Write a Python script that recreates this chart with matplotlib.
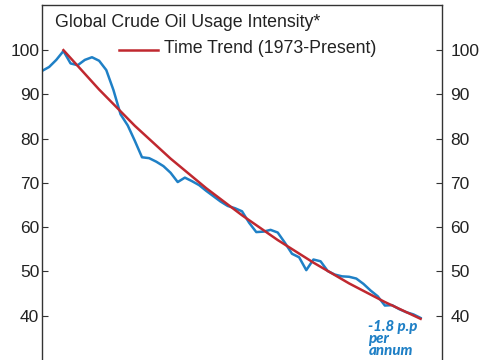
import numpy as np
import matplotlib
matplotlib.use("Agg")
import matplotlib.pyplot as plt
from matplotlib.transforms import ScaledTranslation

plt.rcParams['font.family'] = ['Liberation Sans', 'DejaVu Sans']

# Global crude oil usage intensity index (1973 = 100)
years = list(range(1970, 2024))
intensity = [95.3, 96.2, 97.8, 99.8, 97.0, 96.6, 97.8, 98.4, 97.6, 95.5,
             91.0, 85.5, 83.0, 79.5, 75.8, 75.6, 74.8, 73.8, 72.3, 70.2,
             71.2, 70.4, 69.5, 68.2, 67.0, 65.8, 64.8, 64.3, 63.6, 61.0,
             58.9, 59.0, 59.4, 58.8, 56.5, 54.0, 53.2, 50.3, 52.7, 52.3,
             50.1, 49.3, 48.9, 48.8, 48.4, 47.2, 45.7, 44.4, 42.3, 42.4,
             41.5, 40.8, 40.3, 39.5]

# time trend (1973-present)
trend_years = [1973, 1978, 1983, 1988, 1993, 1998, 2003, 2008, 2013, 2018, 2023]
trend_vals = [100.0, 91.1, 82.9, 75.5, 68.8, 62.7, 57.1, 52.0, 47.3, 43.1, 39.3]

yticks = [40, 50, 60, 70, 80, 90, 100]

blue = '#1f80c6'
red = '#c0282f'

fig = plt.figure(figsize=(4.85, 3.6), dpi=100)
ax = fig.add_axes([42 / 485, 0.0, 400 / 485, 355 / 360])

ax.plot(years, intensity, color=blue, lw=1.8, zorder=2)
ax.plot(trend_years, trend_vals, color=red, lw=1.8, zorder=3)

ax.set_xlim(1970, 2026)
ax.set_ylim(30.0, 110.2)
ax.set_yticks(yticks)
ax.set_xticks([])
ax.spines['bottom'].set_visible(False)
for s in ['left', 'right', 'top']:
    ax.spines[s].set_color('#333333')
    ax.spines[s].set_linewidth(1.0)

ax.tick_params(axis='y', direction='in', length=4.5, width=0.8, color='#333333',
               labelsize=12.5, labelcolor='#222222', right=True, labelright=True, pad=2)
# push the right-hand labels a little further out
for t in ax.yaxis.get_major_ticks():
    t.label2.set_transform(t.label2.get_transform() +
                           ScaledTranslation(4 / 72, 0, fig.dpi_scale_trans))

ax.text(1971.8, 106.3, 'Global Crude Oil Usage Intensity*', fontsize=12.8,
        color='#222222', va='center', ha='left')
ax.plot([1980.8, 1986.2], [100.0, 100.0], color=red, lw=1.8)
ax.text(1987.1, 100.4, 'Time Trend (1973-Present)', fontsize=12.8,
        color='#222222', va='center', ha='left')

ax.text(2015.7, 39.0, '-1.8 p.p\nper\nannum', fontsize=10.8, color=blue,
        fontweight='black', fontstyle='italic', va='top', ha='left',
        linespacing=0.82, family=['Lato', 'DejaVu Sans'])

fig.savefig('out.png', dpi=100)
